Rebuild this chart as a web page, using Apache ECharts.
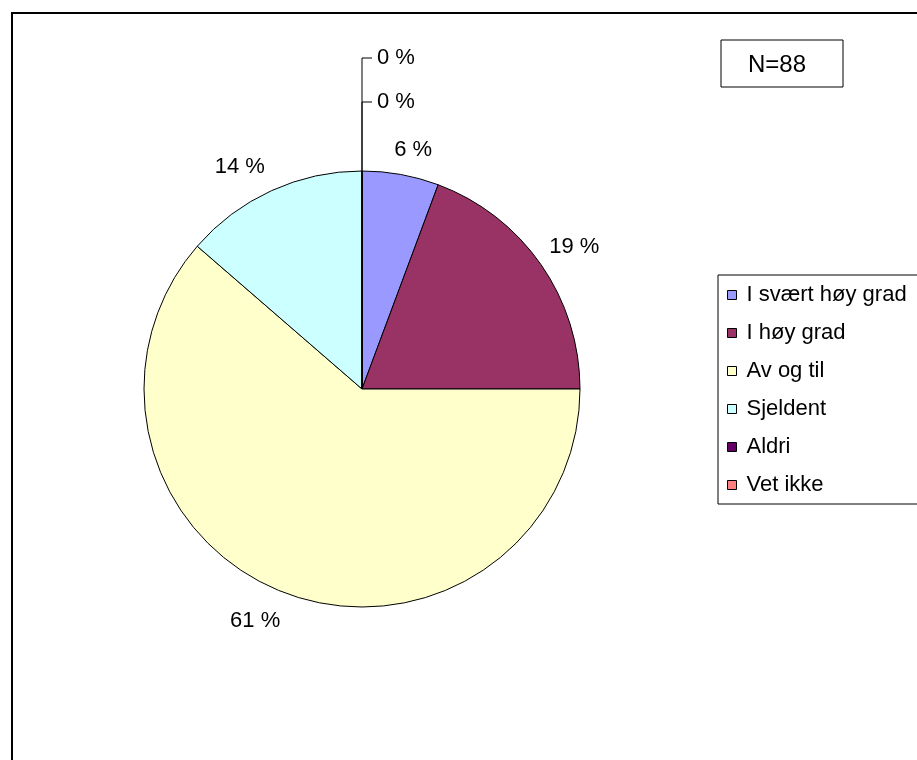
<!DOCTYPE html>
<html>
<head>
<meta charset="utf-8">
<style>
  html, body { margin: 0; padding: 0; background: #fff; }
  #chart { width: 917px; height: 760px; }
</style>
<script src="https://cdn.jsdelivr.net/npm/echarts@6/dist/echarts.min.js"></script>
</head>
<body>
<div id="chart"></div>
<script>
// Answer categories, respondent counts (N = 88) and slice colours
var categories = ['I svært høy grad', 'I høy grad', 'Av og til', 'Sjeldent', 'Aldri', 'Vet ikke'];
var counts = [5, 17, 54, 12, 0, 0];
var colors = ['#9999FF', '#993366', '#FFFFCC', '#CCFFFF', '#660066', '#FF8080'];
var sampleLabel = 'N=88';

var total = counts.reduce(function (a, b) { return a + b; }, 0);
var FONT = '"Liberation Sans", Arial, sans-serif';
var PIE_CENTER = [362, 389];

var pieData = categories.map(function (name, i) {
  var item = { name: name, value: counts[i], itemStyle: { color: colors[i] } };
  if (counts[i] === 0) {
    // zero slices get leader lines straight up from the top of the pie
    item.labelLine = { show: true, length: i === 4 ? 69 : 113, length2: 10,
      lineStyle: { color: '#000', width: 1 } };
  }
  return item;
});

var chart = echarts.init(document.getElementById('chart'), null, { renderer: 'canvas' });

chart.setOption({
  animation: false,
  backgroundColor: '#fff',
  textStyle: { fontFamily: FONT },
  graphic: [
    // outer chart frame
    { type: 'rect', shape: { x: 12, y: 13, width: 960, height: 800 },
      style: { fill: 'none', stroke: '#000', lineWidth: 2 }, z: 0 },
    // sample size box
    { type: 'rect', shape: { x: 721, y: 40, width: 122, height: 47 },
      style: { fill: '#fff', stroke: '#000', lineWidth: 1 }, z: 1 },
    { type: 'text', x: 777, y: 65,
      style: { text: sampleLabel, font: '24px ' + FONT, fill: '#000',
        align: 'center', verticalAlign: 'middle' }, z: 2 },
    // legend frame
    { type: 'rect', shape: { x: 718, y: 275, width: 220, height: 229 },
      style: { fill: '#fff', stroke: '#000', lineWidth: 1 }, z: 1 }
  ],
  legend: {
    orient: 'vertical',
    left: 727,
    top: 284,
    padding: 0,
    itemWidth: 9,
    itemHeight: 9,
    itemGap: 16,
    icon: 'rect',
    selectedMode: false,
    data: categories,
    itemStyle: { borderColor: '#000', borderWidth: 1 },
    textStyle: { fontFamily: FONT, fontSize: 22, color: '#000', padding: [0, 0, 0, 5] },
    z: 5
  },
  series: [{
    type: 'pie',
    center: PIE_CENTER,
    radius: 218,
    startAngle: 90,
    clockwise: true,
    avoidLabelOverlap: false,
    itemStyle: { borderColor: '#000', borderWidth: 1 },
    label: {
      show: true,
      position: 'outside',
      fontFamily: FONT,
      fontSize: 22,
      color: '#000',
      formatter: function (p) {
        return Math.round(p.value / total * 100) + ' %';
      }
    },
    labelLine: { show: false, length: 22, length2: 0 },
    labelLayout: function (p) {
      var pts = p.labelLinePoints;
      if (!pts) return {};
      var item = pieData[p.dataIndex];
      if (item.value === 0) {
        // keep the horizontal tick on the right side of the vertical leader
        var x0 = pts[1][0];
        var y0 = pts[1][1];
        return {
          x: x0 + 15, y: y0, align: 'left', verticalAlign: 'middle',
          labelLinePoints: [pts[0], pts[1], [x0 + 10, y0]]
        };
      }
      // other labels sit just outside the rim, pushed away by half their size
      var cx = PIE_CENTER[0], cy = PIE_CENTER[1];
      var dx = pts[0][0] - cx, dy = pts[0][1] - cy;
      var d = Math.sqrt(dx * dx + dy * dy);
      var ux = dx / d, uy = dy / d;
      var r = 234;
      var w = p.labelRect.width, h = p.labelRect.height;
      var sx = Math.max(-1, Math.min(1, ux / 0.35)) * (ux > 0.6 ? 0.8 : 1);
      var sy = uy < 0 ? -1 : 1;
      return {
        x: cx + ux * r + sx * w / 2,
        y: cy + uy * r + sy * h / 2 + 2,
        align: 'center', verticalAlign: 'middle'
      };
    },
    data: pieData
  }]
});
</script>
</body>
</html>
